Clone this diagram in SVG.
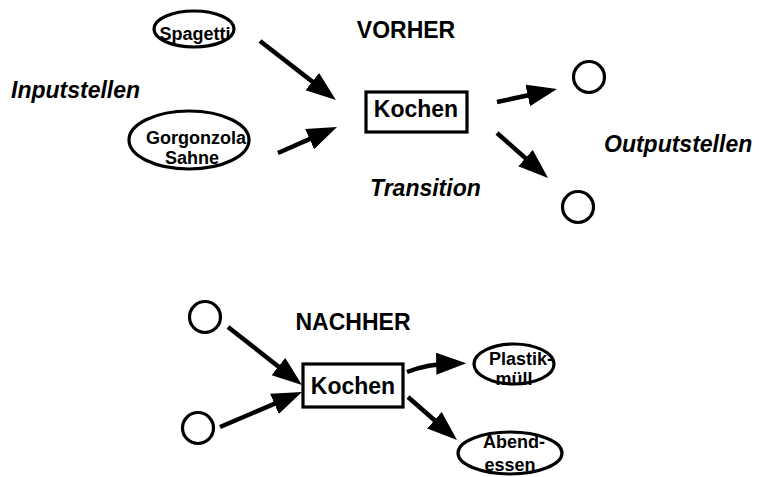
<svg xmlns="http://www.w3.org/2000/svg" width="759" height="477" viewBox="0 0 759 477">
<defs>
<style>
.bg{fill:#ffffff}
.place{fill:none;stroke:#000;stroke-width:3.2}
.box{fill:#fff;stroke:#000;stroke-width:3.2}
.edge{fill:none;stroke:#000;stroke-width:4.5;stroke-linecap:butt}
text{font-family:"Liberation Sans",Arial,Helvetica,sans-serif;font-weight:bold;fill:#000}
.lbl{font-size:18px;text-anchor:middle}
.k{font-size:23px;text-anchor:middle}
.title{font-size:23px;text-anchor:middle}
.note{font-size:23px;font-style:italic}
</style>
<marker id="ah" markerUnits="userSpaceOnUse" markerWidth="31" markerHeight="23" refX="16" refY="11" orient="auto" viewBox="0 0 31 23">
<path d="M0,0 L30,11 L0,22 z" fill="#000"/>
</marker>
</defs>
<rect class="bg" x="0" y="0" width="759" height="477"/>

<g id="labels">
<text class="title" x="406" y="38">VORHER</text>
<text class="note" x="11" y="98">Inputstellen</text>
<text class="note" x="370" y="196">Transition</text>
<text class="note" x="604" y="152">Outputstellen</text>
<text class="title" x="353" y="330">NACHHER</text>
</g>

<g id="connectors">
<line class="edge" x1="260" y1="41" x2="324.9" y2="91.4" marker-end="url(#ah)"/>
<line class="edge" x1="278" y1="153" x2="324.2" y2="132.6" marker-end="url(#ah)"/>
<line class="edge" x1="497" y1="102" x2="543.3" y2="92" marker-end="url(#ah)"/>
<line class="edge" x1="497" y1="133" x2="537.5" y2="168.7" marker-end="url(#ah)"/>
<line class="edge" x1="228" y1="327" x2="291" y2="376.4" marker-end="url(#ah)"/>
<line class="edge" x1="220" y1="427" x2="289.1" y2="397.5" marker-end="url(#ah)"/>
<path class="edge" d="M407,372 Q428,364 452.2,363.6" marker-end="url(#ah)"/>
<line class="edge" x1="408" y1="397" x2="446.5" y2="430.8" marker-end="url(#ah)"/>
</g>

<g id="spagetti">
<ellipse class="place" cx="194" cy="29" rx="40" ry="18"/>
<text class="lbl" x="195" y="40">Spagetti</text>
</g>
<g id="gorgonzola">
<ellipse class="place" cx="189" cy="140" rx="60" ry="29"/>
<text class="lbl" x="196" y="144">Gorgonzola</text>
<text class="lbl" x="192" y="164">Sahne</text>
</g>
<g id="kochen-vorher">
<rect class="box" x="366" y="92" width="101" height="40"/>
<text class="k" x="416" y="117">Kochen</text>
</g>
<g id="out1">
<circle class="place" cx="589" cy="77" r="15.5"/>
</g>
<g id="out2">
<circle class="place" cx="578" cy="207" r="15.5"/>
</g>

<g id="in1-nachher">
<circle class="place" cx="205" cy="317" r="15.5"/>
</g>
<g id="in2-nachher">
<circle class="place" cx="198" cy="428" r="15.5"/>
</g>
<g id="kochen-nachher">
<rect class="box" x="303" y="364" width="100" height="43"/>
<text class="k" x="353" y="394">Kochen</text>
</g>
<g id="plastikmuell">
<ellipse class="place" cx="514" cy="364" rx="40" ry="20"/>
<text class="lbl" x="521" y="365">Plastik-</text>
<text class="lbl" x="514" y="385">müll</text>
</g>
<g id="abendessen">
<ellipse class="place" cx="510" cy="453" rx="52" ry="21"/>
<text class="lbl" x="514" y="448">Abend-</text>
<text class="lbl" x="510" y="471">essen</text>
</g>
</svg>
